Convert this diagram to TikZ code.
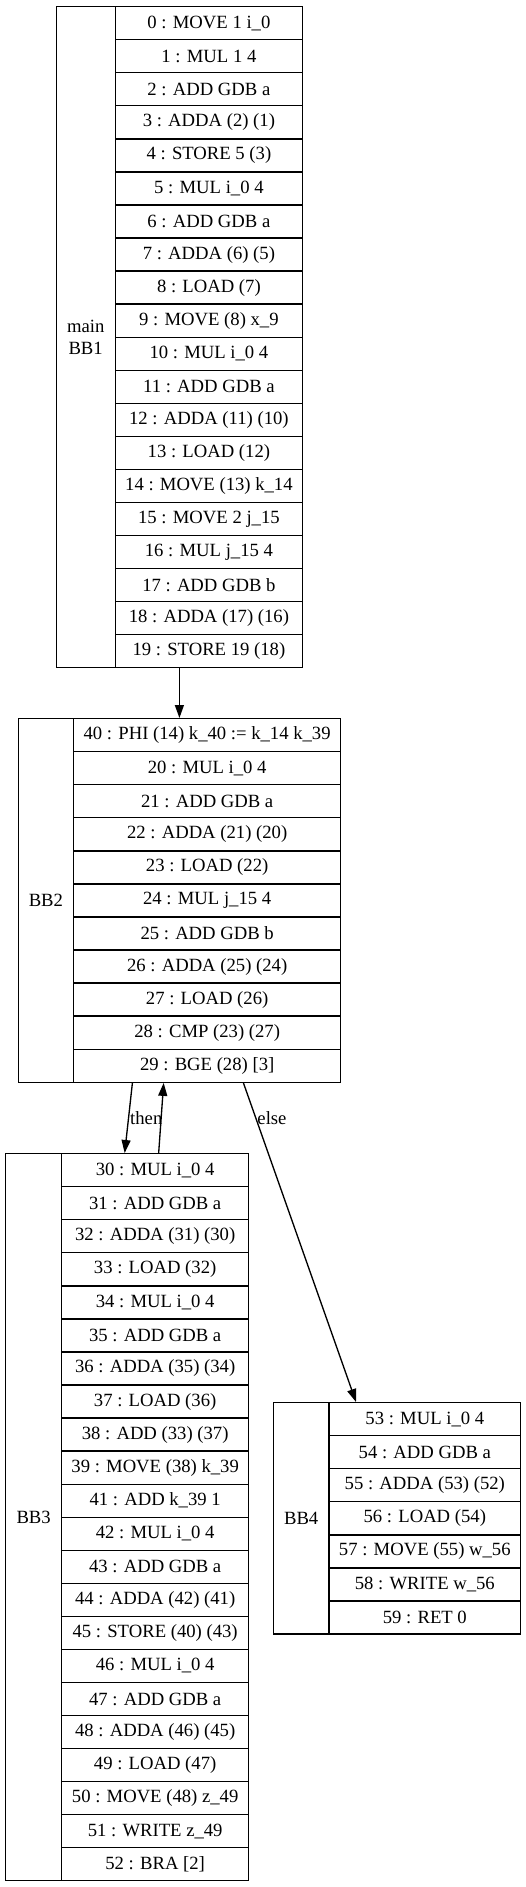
\documentclass[tikz,border=0pt]{standalone}
\usepackage{fontspec}
\setmainfont{Liberation Serif}
\usetikzlibrary{arrows.meta}

\begin{document}
\begin{tikzpicture}[x=1pt,y=-1pt,>={Triangle[length=13pt,width=9pt]},line width=1.33pt,
  every node/.style={font=\fontsize{18.67}{22}\selectfont},
  box/.style={draw,inner sep=0pt,anchor=north west},
  lbl/.style={box,align=center},
  row/.style={box,minimum height=33.05pt}]
\useasboundingbox (0,0) rectangle (525,1887);
% main BB1
\node[box,minimum width=246.5pt,minimum height=661pt] (bb1) at (55.5,6) {};
\node[lbl,minimum width=59pt,minimum height=661pt] (bb1l) at (55.5,6) {main\\BB1};
\foreach \t [count=\i from 0] in {{0 : MOVE 1 i\_0},{1 : MUL 1 4},{2 : ADD GDB a},{3 : ADDA (2) (1)},{4 : STORE 5 (3)},{5 : MUL i\_0 4},{6 : ADD GDB a},{7 : ADDA (6) (5)},{8 : LOAD (7)},{9 : MOVE (8) x\_9},{10 : MUL i\_0 4},{11 : ADD GDB a},{12 : ADDA (11) (10)},{13 : LOAD (12)},{14 : MOVE (13) k\_14},{15 : MOVE 2 j\_15},{16 : MUL j\_15 4},{17 : ADD GDB b},{18 : ADDA (17) (16)},{19 : STORE 19 (18)}}
  \node[row,minimum width=187.5pt] (bb1r\i) at (114.5,{6+\i*33.05}) {\t};
% BB2
\node[box,minimum width=322.5pt,minimum height=363.55pt] (bb2) at (17.5,718) {};
\node[lbl,minimum width=55.5pt,minimum height=363.55pt] (bb2l) at (17.5,718) {BB2};
\foreach \t [count=\i from 0] in {{40 : PHI (14) k\_40 := k\_14 k\_39},{20 : MUL i\_0 4},{21 : ADD GDB a},{22 : ADDA (21) (20)},{23 : LOAD (22)},{24 : MUL j\_15 4},{25 : ADD GDB b},{26 : ADDA (25) (24)},{27 : LOAD (26)},{28 : CMP (23) (27)},{29 : BGE (28) [3]}}
  \node[row,minimum width=267pt] (bb2r\i) at (73,{718+\i*33.05}) {\t};
% BB3
\node[box,minimum width=243pt,minimum height=727.1pt] (bb3) at (5,1153) {};
\node[lbl,minimum width=56pt,minimum height=727.1pt] (bb3l) at (5,1153) {BB3};
\foreach \t [count=\i from 0] in {{30 : MUL i\_0 4},{31 : ADD GDB a},{32 : ADDA (31) (30)},{33 : LOAD (32)},{34 : MUL i\_0 4},{35 : ADD GDB a},{36 : ADDA (35) (34)},{37 : LOAD (36)},{38 : ADD (33) (37)},{39 : MOVE (38) k\_39},{41 : ADD k\_39 1},{42 : MUL i\_0 4},{43 : ADD GDB a},{44 : ADDA (42) (41)},{45 : STORE (40) (43)},{46 : MUL i\_0 4},{47 : ADD GDB a},{48 : ADDA (46) (45)},{49 : LOAD (47)},{50 : MOVE (48) z\_49},{51 : WRITE z\_49},{52 : BRA [2]}}
  \node[row,minimum width=187pt] (bb3r\i) at (61,{1153+\i*33.05}) {\t};
% BB4
\node[box,minimum width=247.3pt,minimum height=231.35pt] (bb4) at (272.7,1402) {};
\node[lbl,minimum width=55.6pt,minimum height=231.35pt] (bb4l) at (272.7,1402) {BB4};
\foreach \t [count=\i from 0] in {{53 : MUL i\_0 4},{54 : ADD GDB a},{55 : ADDA (53) (52)},{56 : LOAD (54)},{57 : MOVE (55) w\_56},{58 : WRITE w\_56},{59 : RET 0}}
  \node[row,minimum width=191.7pt] (bb4r\i) at (328.3,{1402+\i*33.05}) {\t};
% edges
\draw[->] (bb1.south) -- (bb2.north);
\draw[->] ([xshift=-47pt]bb2.south) -- node[right,inner sep=1pt] (thenl) {then} ([xshift=-2.5pt]bb3.north);
\draw[->] ([xshift=31.5pt]bb3.north) -- ([xshift=-15.75pt]bb2.south);
\draw[->] ([xshift=64pt]bb2.south) -- node[right,pos=.11,inner sep=1pt] (elsel) {else} ([xshift=-41pt]bb4.north);
\end{tikzpicture}
\end{document}
